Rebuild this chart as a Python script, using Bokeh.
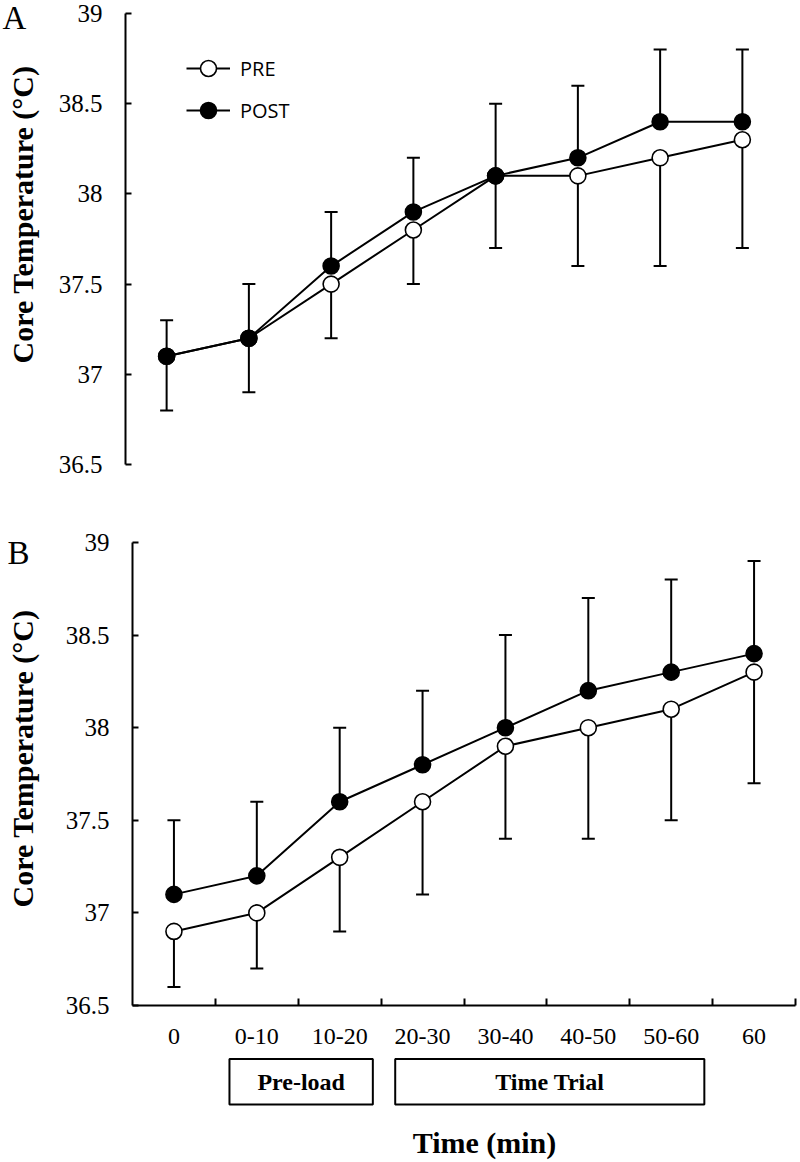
import math
from bokeh.plotting import figure
from bokeh.models import (Range1d, FixedTicker, Whisker, TeeHead, ColumnDataSource,
                          Legend, LegendItem, Label)
from bokeh.layouts import column, row
from bokeh.embed import file_html
from bokeh.resources import INLINE

# ---------------- data ----------------
categories = ["0", "0-10", "10-20", "20-30", "30-40", "40-50", "50-60", "60"]

a_pre = [37.1, 37.2, 37.5, 37.8, 38.1, 38.1, 38.2, 38.3]
a_post = [37.1, 37.2, 37.6, 37.9, 38.1, 38.2, 38.4, 38.4]
a_pre_sd = [0.3, 0.3, 0.3, 0.3, 0.4, 0.5, 0.6, 0.6]
a_post_sd = [0.2, 0.3, 0.3, 0.3, 0.4, 0.4, 0.4, 0.4]

b_pre = [36.9, 37.0, 37.3, 37.6, 37.9, 38.0, 38.1, 38.3]
b_post = [37.1, 37.2, 37.6, 37.8, 38.0, 38.2, 38.3, 38.4]
b_pre_sd = [0.3, 0.3, 0.4, 0.5, 0.5, 0.6, 0.6, 0.6]
b_post_sd = [0.4, 0.4, 0.4, 0.4, 0.5, 0.5, 0.5, 0.5]

y_ticks = [36.5, 37.0, 37.5, 38.0, 38.5, 39.0]
y_tick_labels = ["36.5", "37", "37.5", "38", "38.5", "39"]

phase_names = ["Pre-load", "Time Trial"]
phase_first = [1, 3]
phase_last = [2, 6]

y_title = "Core Temperature (°C)"
x_title = "Time (min)"

SERIF = "Liberation Serif"
N = len(categories)
XPOS = [i + 0.5 for i in range(N)]
STRIP_W = 52


def make_strip(height, letter, letter_x, letter_y, title_y):
    s = figure(width=STRIP_W, height=height, x_range=Range1d(0, 1), y_range=Range1d(0, 1),
               x_axis_type=None, y_axis_type=None, min_border=0, frame_align=False,
               outline_line_color=None, toolbar_location=None, output_backend="svg")
    s.add_layout(Label(x=letter_x, y=letter_y, x_units="screen", y_units="screen",
                       text=letter, text_font=SERIF, text_font_size="33px",
                       text_color="black", text_align="left", text_baseline="alphabetic"))
    s.add_layout(Label(x=22, y=title_y, x_units="screen", y_units="screen",
                       text=y_title, angle=math.pi / 2,
                       text_font=SERIF, text_font_size="30px", text_font_style="bold",
                       text_color="black", text_align="center", text_baseline="middle"))
    return s


def make_panel(pre, post, pre_sd, post_sd, height, top, bottom, left, right, show_x):
    p = figure(width=800 - STRIP_W, height=height, x_range=Range1d(0, N),
               y_range=Range1d(36.5, 39),
               min_border_top=top, min_border_bottom=bottom,
               min_border_left=left, min_border_right=right, frame_align=False,
               toolbar_location=None, output_backend="svg", outline_line_color=None)
    p.grid.visible = False

    pre_src = ColumnDataSource(dict(x=XPOS, y=pre,
                                    lo=[round(v - s, 2) for v, s in zip(pre, pre_sd)]))
    post_src = ColumnDataSource(dict(x=XPOS, y=post,
                                     hi=[round(v + s, 2) for v, s in zip(post, post_sd)]))

    p.add_layout(Whisker(source=pre_src, base="x", upper="y", lower="lo",
                         line_color="black", line_width=2, upper_head=None,
                         lower_head=TeeHead(size=13, line_width=2, line_color="black")))
    p.add_layout(Whisker(source=post_src, base="x", upper="hi", lower="y",
                         line_color="black", line_width=2, lower_head=None,
                         upper_head=TeeHead(size=13, line_width=2, line_color="black")))

    l1 = p.line("x", "y", source=pre_src, line_color="black", line_width=2)
    s1 = p.scatter("x", "y", source=pre_src, size=16, marker="circle",
                   fill_color="white", line_color="black", line_width=1.6)
    l2 = p.line("x", "y", source=post_src, line_color="black", line_width=2)
    s2 = p.scatter("x", "y", source=post_src, size=16, marker="circle",
                   fill_color="black", line_color="black", line_width=1.6)

    p.yaxis.ticker = FixedTicker(ticks=y_ticks)
    p.yaxis.major_label_overrides = dict(zip(y_ticks, y_tick_labels))
    p.yaxis.axis_line_width = 2
    p.yaxis.axis_line_color = "black"
    p.yaxis.major_tick_line_width = 2
    p.yaxis.major_tick_line_color = "black"
    p.yaxis.major_tick_in = 6
    p.yaxis.major_tick_out = 0
    p.yaxis.minor_tick_line_color = None
    p.yaxis.major_label_text_font = SERIF
    p.yaxis.major_label_text_font_size = "25px"
    p.yaxis.major_label_text_color = "black"
    p.yaxis.major_label_standoff = 23

    if show_x:
        p.xaxis.ticker = FixedTicker(ticks=XPOS, minor_ticks=list(range(1, N + 1)))
        p.xaxis.major_label_overrides = dict(zip(XPOS, categories))
        p.xaxis.axis_line_width = 2
        p.xaxis.axis_line_color = "black"
        p.xaxis.major_tick_line_color = None
        p.xaxis.major_tick_in = 0
        p.xaxis.major_tick_out = 0
        p.xaxis.minor_tick_line_color = "black"
        p.xaxis.minor_tick_line_width = 2
        p.xaxis.minor_tick_in = 7
        p.xaxis.minor_tick_out = 0
        p.xaxis.major_label_text_font = SERIF
        p.xaxis.major_label_text_font_size = "24px"
        p.xaxis.major_label_text_color = "black"
        p.xaxis.major_label_standoff = 23
    else:
        p.xaxis.visible = False
    return p, (l1, s1), (l2, s2)


# ---------------- panel A ----------------
A_H = 480
pA, pre_r, post_r = make_panel(a_pre, a_post, a_pre_sd, a_post_sd,
                               A_H, 13, 16, 125 - STRIP_W, 17, False)
legend = Legend(items=[LegendItem(label="PRE", renderers=list(pre_r)),
                       LegendItem(label="POST", renderers=list(post_r))],
                location=(61, 334), glyph_width=44, glyph_height=40, spacing=2,
                padding=0, margin=0, border_line_color=None, background_fill_alpha=0,
                label_text_font="Open Sans", label_text_font_size="20px",
                label_text_color="black", label_standoff=10, label_height=40)
pA.add_layout(legend)
sA = make_strip(A_H, "A", 2, A_H - 17, A_H - 214)

# ---------------- panel B ----------------
B_H = 577
pB, _, _ = make_panel(b_pre, b_post, b_pre_sd, b_post_sd,
                      B_H, 62, 52, 132 - STRIP_W, 5, True)
sB = make_strip(B_H, "B", 7, B_H - (552 - 480), B_H - (758 - 480))

# ---------------- phase boxes + x title ----------------
C_H = 1162 - A_H - B_H
pC = figure(width=800, height=C_H, x_range=Range1d(0, N), y_range=Range1d(C_H, 0),
            min_border_left=132, min_border_right=5, min_border_top=0, min_border_bottom=0,
            frame_align=False,
            x_axis_type=None, y_axis_type=None, outline_line_color=None,
            toolbar_location=None, output_backend="svg")
box_left = [f + 0.17 for f in phase_first]
box_right = [l + 1 - 0.1 for l in phase_last]
phase_src = ColumnDataSource(dict(left=box_left, right=box_right,
                                  mid=[(a + b) / 2 for a, b in zip(box_left, box_right)],
                                  name=phase_names))
pC.quad(left="left", right="right", top=1.5, bottom=47, source=phase_src,
        fill_color=None, line_color="black", line_width=2)
pC.text(x="mid", y=24, text="name", source=phase_src, text_align="center",
        text_baseline="middle", text_font_size="24px", text_font_style="bold",
        text_color="black", text_font={"value": SERIF})
pC.add_layout(Label(x=484 - 132, y=20, x_units="screen", y_units="screen", text=x_title,
                    text_font=SERIF, text_font_size="30px", text_font_style="bold",
                    text_color="black", text_align="center", text_baseline="middle"))

layout = column(row(sA, pA, spacing=0), row(sB, pB, spacing=0), pC, spacing=0)
open("out.html", "w").write(file_html(layout, INLINE))
